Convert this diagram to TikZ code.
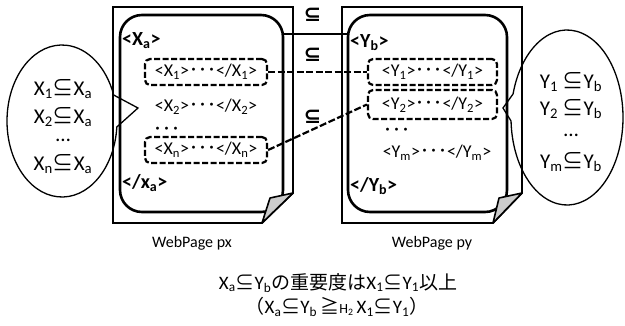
\documentclass[tikz,border=0pt]{standalone}
\usepackage{fontspec}
\setmainfont{Carlito}
\newfontfamily\jp{Noto Sans CJK JP}
\newfontfamily\dv{DejaVu Sans}
\usetikzlibrary{calc}
\newcommand\sbs[1]{\textsubscript{#1}}
\newcommand\dts{{\jp ･･･}}
\newcommand\sq{{\jp ⊆}}

\begin{document}
\begin{tikzpicture}[x=1pt,y=-1pt,
  page/.style={draw, line width=1.8pt, line join=miter},
  inpage/.style={draw, line width=2.6pt, rounded corners=22pt, inner sep=0pt},
  fold/.style={draw, line width=1.6pt, fill=gray!40, line join=round},
  dbox/.style={draw, line width=2.2pt, dash pattern=on 6pt off 2.5pt, rounded corners=5pt, inner sep=0pt, font=\fontsize{18}{21}\selectfont},
  link/.style={line width=2.2pt, dash pattern=on 7pt off 2.5pt},
  solidlink/.style={line width=2pt},
  tag/.style={inner sep=0pt, font=\bfseries\fontsize{20}{24}\selectfont, anchor=west},
  elem/.style={inner sep=0pt, font=\fontsize{18}{21}\selectfont},
  bubble/.style={draw, line width=1.3pt, line join=miter},
  btext/.style={inner sep=0pt, font=\fontsize{21}{25}\selectfont},
  subs/.style={inner sep=0pt, font=\dv\bfseries\fontsize{21}{25}\selectfont},
  caption/.style={inner sep=0pt, font=\fontsize{16}{19}\selectfont},
  note/.style={inner sep=0pt, font=\fontsize{19}{23}\selectfont}
]
\useasboundingbox (0,0) rectangle (625,325);

% page px
\draw[page] (113,7) -- (293,7) -- (293,193) -- (262,223) -- (113,223) -- cycle;
\node[inpage, minimum width=163pt, minimum height=197pt] (pxin) at (201.5,113.5) {};
\draw[fold] (293,193) -- (270,198) -- (262,223) -- cycle;

% page py
\draw[page] (342,7) -- (522,7) -- (522,193) -- (493,223) -- (342,223) -- cycle;
\node[inpage, minimum width=159pt, minimum height=197pt] (pyin) at (427.5,113.5) {};
\draw[fold] (522,193) -- (499,198) -- (493,223) -- cycle;

% tags
\node[tag] (xa) at (122,41) {<X\sbs{a}>};
\node[tag] (xae) at (122,183) {</x\sbs{a}>};
\node[tag] (yb) at (350,43) {<Y\sbs{b}>};
\node[tag] (ybe) at (350,186) {</Y\sbs{b}>};

% elements of px
\node[dbox, minimum width=122pt, minimum height=26pt] (bx1) at (206,72) {<X\sbs{1}>\dts</X\sbs{1}>};
\node[elem] (x2) at (206,107) {<X\sbs{2}>\dts</X\sbs{2}>};
\node[elem] (xdots) at (167,131) {\dts};
\node[dbox, minimum width=122pt, minimum height=26pt] (bxn) at (206,150) {<X\sbs{n}>\dts</X\sbs{n}>};

% elements of py
\node[dbox, minimum width=129pt, minimum height=26pt] (by1) at (432.5,72) {<Y\sbs{1}>\dts</Y\sbs{1}>};
\node[dbox, minimum width=129pt, minimum height=29pt] (by2) at (432.5,104.5) {<Y\sbs{2}>\dts</Y\sbs{2}>};
\node[elem] (ydots) at (397,132) {\dts};
\node[elem] (ym) at (437,153) {<Y\sbs{m}>\dts</Y\sbs{m}>};

% links between the pages
\coordinate (sa) at (283,34);
\coordinate (sb) at (347,34);
\draw[solidlink] (sa) -- (sb);
\draw[link] (bx1.east) -- (by1.west);
\draw[link] (bxn.east) -- (by2.west);

\node[subs] (s1) at (312.5,14.5) {⊆};
\node[subs] (s2) at (312.5,55) {⊆};
\node[subs] (s3) at (312.5,117) {⊆};

% callouts
\draw[bubble] ($(62,121)+(4.5:55 and 76)$) arc[start angle=4.5, end angle=340, x radius=55, y radius=76] -- (138,108) -- cycle;
\draw[bubble] ($(567,117.5)+(195.6:56 and 87.5)$) arc[start angle=195.6, end angle=537.7, x radius=56, y radius=87.5] -- (503,108) -- cycle;

\node[btext] (l1) at (63,89) {X\sbs{1}\sq X\sbs{a}};
\node[btext] (l2) at (63,117) {X\sbs{2}\sq X\sbs{a}};
\node[btext] (l3) at (63,140) {…};
\node[btext] (l4) at (63,164) {X\sbs{n}\sq X\sbs{a}};

\node[btext] (r1) at (571,82) {Y\sbs{1} \sq Y\sbs{b}};
\node[btext] (r2) at (571,109) {Y\sbs{2} \sq Y\sbs{b}};
\node[btext] (r3) at (571,135) {…};
\node[btext] (r4) at (571,162) {Y\sbs{m}\sq Y\sbs{b}};

% captions
\node[caption] (cpx) at (192,243) {WebPage px};
\node[caption] (cpy) at (432,243) {WebPage py};

\node[note] (n1) at (338,283) {X\sbs{a}\sq Y\sbs{b}{\jp の重要度は}X\sbs{1}\sq Y\sbs{1}{\jp 以上}};
\node[note] (n2) at (337,307) {{\jp （}X\sbs{a}\sq Y\sbs{b}\,{\jp ≧}{\fontsize{14}{14}\selectfont H\sbs{2}}\,X\sbs{1}\sq Y\sbs{1}{\jp ）}};
\end{tikzpicture}
\end{document}
